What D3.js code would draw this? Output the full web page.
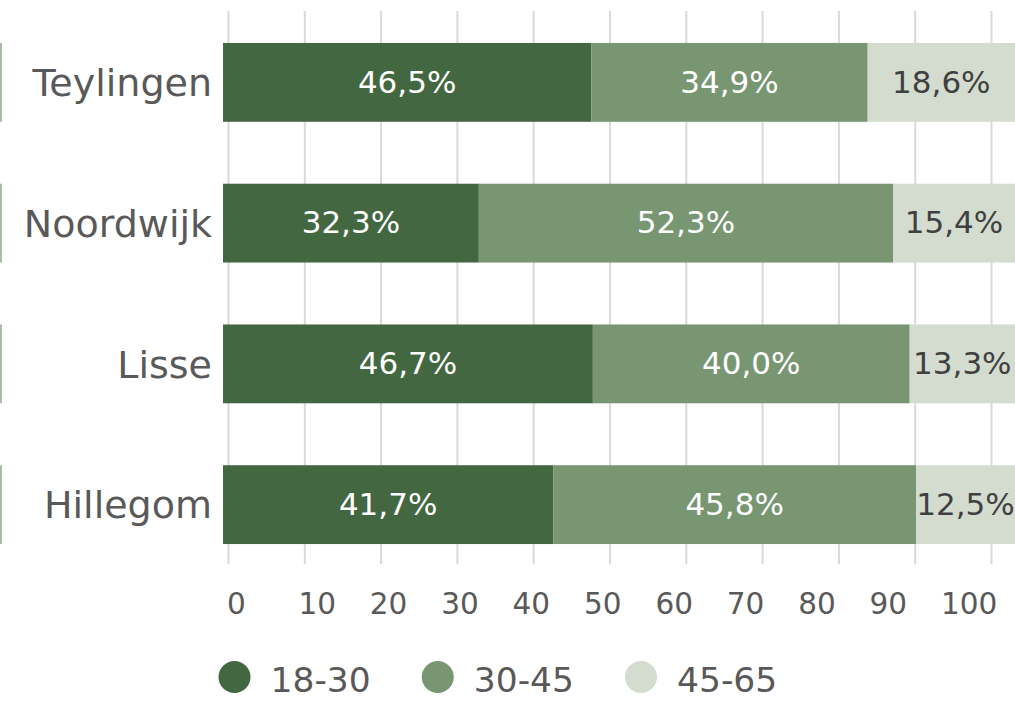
<!DOCTYPE html>
<html lang="nl">
<head>
<meta charset="UTF-8">
<title>Leeftijdsverdeling per gemeente</title>
<style>
    body { margin: 0; padding: 0; background: #fff; }
    svg { display: block; font-family: "DejaVu Sans", Verdana, sans-serif; }
    .cat-label { fill: #595959; font-size: 38px; text-anchor: end; }
    .tick-label { fill: #595959; font-size: 29.5px; }
    .bar-label { font-size: 31px; text-anchor: middle; }
    .legend-label { fill: #595959; font-size: 34.5px; }
    .grid line { stroke: #d9d9d9; stroke-width: 2; }
</style>
</head>
<body>
<svg id="chart" width="1015" height="701"></svg>
<script src="https://d3js.org/d3.v7.min.js"></script>
<script>
    // gemeenten, van boven naar beneden
    var categories = ["Teylingen", "Noordwijk", "Lisse", "Hillegom"];
    var series = ["18-30", "30-45", "45-65"];
    var young = [46.5, 32.3, 46.7, 41.7];   // 18-30
    var middle = [34.9, 52.3, 40.0, 45.8];  // 30-45
    var older = [18.6, 15.4, 13.3, 12.5];   // 45-65
    var ticks = [0, 10, 20, 30, 40, 50, 60, 70, 80, 90, 100];
    var colors = ["#426741", "#789672", "#d3dccf"];
    var labelColors = ["#ffffff", "#ffffff", "#404040"];

    var rows = categories.map(function (c, i) {
        return { name: c, "18-30": young[i], "30-45": middle[i], "45-65": older[i] };
    });
    var stacked = d3.stack().keys(series)(rows);

    var svg = d3.select("#chart");

    var y = d3.scaleBand()
        .domain(categories)
        .range([12, 575])
        .paddingInner(0.44)
        .paddingOuter(0.22);

    // bars span the full width, the axis sits slightly inside
    var xBar = d3.scaleLinear().domain([0, 100]).range([223, 1015]);
    var xAxis = d3.scaleLinear().domain([0, 100]).range([228, 991]);
    var xLabel = d3.scaleLinear().domain([0, 100]).range([227, 941]);

    // gridlines
    svg.append("g")
        .attr("class", "grid")
        .attr("transform", "translate(0,564)")
        .call(d3.axisBottom(xAxis).tickValues(ticks).tickSize(-553).tickFormat(""))
        .call(function (g) { g.select(".domain").remove(); });

    svg.append("g")
        .selectAll("text")
        .data(ticks)
        .enter().append("text")
        .attr("class", "tick-label")
        .attr("x", function (d) { return xLabel(d); })
        .attr("y", 614)
        .text(function (d) { return d; });

    // thin cut-off marks at the left edge
    svg.append("g")
        .selectAll("rect")
        .data(categories)
        .enter().append("rect")
        .attr("x", 0)
        .attr("y", function (d) { return y(d); })
        .attr("width", 2)
        .attr("height", y.bandwidth())
        .attr("fill", "#a9bfa5");

    var layers = svg.append("g")
        .selectAll("g")
        .data(stacked)
        .enter().append("g");

    layers.selectAll("rect")
        .data(function (s) { return s; })
        .enter().append("rect")
        .attr("x", function (d) { return xBar(d[0]); })
        .attr("y", function (d) { return y(d.data.name); })
        .attr("width", function (d) { return xBar(d[1]) - xBar(d[0]); })
        .attr("height", y.bandwidth())
        .attr("fill", function () { return colors[series.indexOf(d3.select(this.parentNode).datum().key)]; });

    layers.selectAll("text")
        .data(function (s) { return s.map(function (d) { return { d: d, key: s.key }; }); })
        .enter().append("text")
        .attr("class", "bar-label")
        .attr("x", function (o) { return (xBar(o.d[0]) + xBar(o.d[1])) / 2; })
        .attr("y", function (o) { return y(o.d.data.name) + y.bandwidth() / 2; })
        .attr("dy", "0.33em")
        .attr("fill", function (o) { return labelColors[series.indexOf(o.key)]; })
        .text(function (o) { return o.d.data[o.key].toFixed(1).replace(".", ",") + "%"; });

    svg.append("g")
        .selectAll("text")
        .data(categories)
        .enter().append("text")
        .attr("class", "cat-label")
        .attr("x", 212)
        .attr("y", function (d) { return y(d) + y.bandwidth() / 2; })
        .attr("dy", "0.36em")
        .text(function (d) { return d; });

    // legend
    var lx = d3.scalePoint().domain(series).range([234.5, 641]);
    var legend = svg.append("g")
        .selectAll("g")
        .data(series)
        .enter().append("g")
        .attr("transform", function (d) { return "translate(" + lx(d) + ",677)"; });

    legend.append("circle")
        .attr("r", 16)
        .attr("fill", function (d, i) { return colors[i]; });

    legend.append("text")
        .attr("class", "legend-label")
        .attr("x", 36)
        .attr("y", 15)
        .text(function (d) { return d; });
</script>
</body>
</html>
